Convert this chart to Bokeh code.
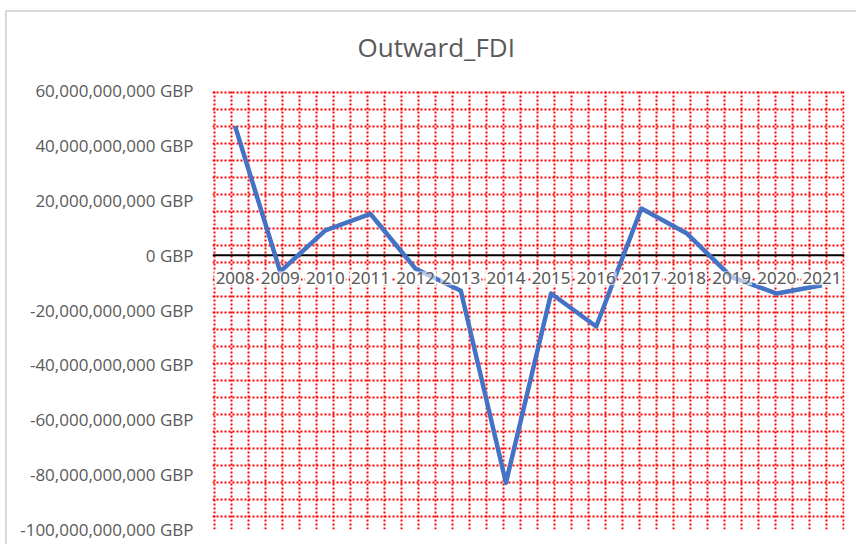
from bokeh.plotting import figure
from bokeh.models import Range1d, FixedTicker, Grid, Span, ColumnDataSource
from bokeh.core.properties import value
from bokeh.embed import file_html
from bokeh.resources import INLINE

# ---- data ----
years = ["2008", "2009", "2010", "2011", "2012", "2013", "2014",
         "2015", "2016", "2017", "2018", "2019", "2020", "2021"]
outward_fdi = [47e9, -6e9, 9e9, 15e9, -5e9, -13e9, -83e9,
               -14e9, -26e9, 17e9, 8e9, -8e9, -14e9, -11e9]
y_ticks = [-100e9, -80e9, -60e9, -40e9, -20e9, 0, 20e9, 40e9, 60e9]
y_tick_labels = ["-100,000,000,000 GBP", "-80,000,000,000 GBP", "-60,000,000,000 GBP",
                 "-40,000,000,000 GBP", "-20,000,000,000 GBP", "0 GBP",
                 "20,000,000,000 GBP", "40,000,000,000 GBP", "60,000,000,000 GBP"]
title_text = "Outward_FDI"

# ---- layout ----
W, H = 856, 544
FL, FT, FW, FH = 212, 89, 632, 440
FONT = "Open Sans"
GRAY = "#595959"

xi = list(range(len(years)))

p = figure(width=W, height=H,
           x_range=Range1d(-0.5, len(years) - 0.5),
           y_range=Range1d(y_ticks[0], y_ticks[-1]),
           output_backend="svg", toolbar_location=None,
           min_border_left=FL, min_border_top=FT,
           min_border_right=W - FL - FW, min_border_bottom=H - FT - FH)
p.outline_line_color = None
p.background_fill_color = "white"
p.border_fill_color = None
# light grey chart-area border (left and top edges visible in the reference)
p.styles = {
    "background": ("linear-gradient(#d9d9d9, #d9d9d9) 5px 10px / 2px 100% no-repeat, "
                   "linear-gradient(#d9d9d9, #d9d9d9) 5px 10px / 100% 2px no-repeat, white"),
}

p.title.text = title_text
p.title.align = "left"
p.title.offset = 145
p.title.standoff = 52
p.title.text_font = FONT
p.title.text_font_size = "26px"
p.title.text_font_style = "normal"
p.title.text_color = GRAY

p.grid.grid_line_color = None
p.xaxis.visible = False

yax = p.yaxis[0]
yax.ticker = FixedTicker(ticks=y_ticks)
yax.major_label_overrides = {t: l for t, l in zip(y_ticks, y_tick_labels)}
yax.axis_line_color = None
yax.major_tick_line_color = None
yax.minor_tick_line_color = None
yax.major_tick_in = 0
yax.major_tick_out = 0
yax.major_label_standoff = 19
yax.major_label_text_font = FONT
yax.major_label_text_font_size = "17px"
yax.major_label_text_color = GRAY

# pattern-fill style dotted red grid (pixel ranges over the plot area)
p.extra_x_ranges = {"px": Range1d(0, FW)}
p.extra_y_ranges = {"py": Range1d(FH, 0)}
PERIOD = 17
vx = [2 + PERIOD * k for k in range(38)]
hy = [2 + PERIOD * k for k in range(26)]
for dim, ticks, kw in ((0, vx, {"x_range_name": "px"}), (1, hy, {"y_range_name": "py"})):
    g = Grid(dimension=dim, ticker=FixedTicker(ticks=ticks), grid_line_color="#ff0000",
             grid_line_width=2, grid_line_dash="2 2", **kw)
    p.add_layout(g)

p.add_layout(Span(location=0, dimension="width", line_color="black", line_width=2, level="underlay"))

src = ColumnDataSource(dict(x=xi, year=years, fdi=outward_fdi, zero=[0] * len(years)))

p.text(x="x", y="zero", text="year", source=src, y_offset=23,
       text_align="center", text_baseline="middle", text_font=value(FONT),
       text_font_size="17px", text_color=GRAY,
       background_fill_color="white", background_fill_alpha=1.0, padding=1)

p.line(x="x", y="fdi", source=src, line_color="#4472C4", line_width=4.5, line_join="round")

p.text(x="x", y="zero", text="year", source=src, y_offset=23,
       text_align="center", text_baseline="middle", text_font=value(FONT),
       text_font_size="17px", text_color=GRAY,
       background_fill_color="white", background_fill_alpha=0.6, padding=1)

open("out.html", "w").write(file_html(p, INLINE))
